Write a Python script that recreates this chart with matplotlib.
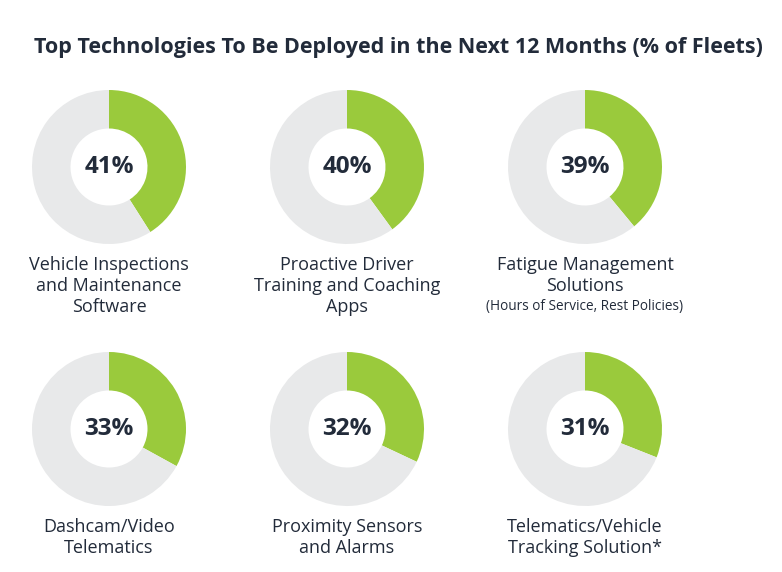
import matplotlib.pyplot as plt

plt.rcParams['font.family'] = ['Open Sans', 'DejaVu Sans']

TITLE = 'Top Technologies To Be Deployed in the Next 12 Months (% of Fleets)'

technologies = [
    'Vehicle Inspections\nand Maintenance\nSoftware',
    'Proactive Driver\nTraining and Coaching\nApps',
    'Fatigue Management\nSolutions',
    'Dashcam/Video\nTelematics',
    'Proximity Sensors\nand Alarms',
    'Telematics/Vehicle\nTracking Solution*',
]
notes = ['', '', '(Hours of Service, Rest Policies)', '', '', '']
percent = [41, 40, 39, 33, 32, 31]

GREEN = '#9aca3c'
GREY = '#e8e9ea'
DARK = '#222b3a'

W, H = 782, 572
fig = plt.figure(figsize=(W / 100, H / 100), dpi=100)
fig.patch.set_facecolor('white')

fig.text(398 / W, 1 - 48 / H, TITLE, ha='center', va='center',
         fontsize=15.5, fontweight='bold', color=DARK)

centers_x = [109, 347, 585]
centers_y = [167, 429]
r_out = 77

for i, (name, note, p) in enumerate(zip(technologies, notes, percent)):
    cx = centers_x[i % 3]
    cy = centers_y[i // 3]
    ax = fig.add_axes([(cx - r_out) / W, 1 - (cy + r_out) / H,
                       2 * r_out / W, 2 * r_out / H])
    ax.pie([p, 100 - p], colors=[GREEN, GREY], startangle=90,
           counterclock=False, radius=1,
           wedgeprops=dict(width=0.5, linewidth=0))
    ax.set_xlim(-1, 1)
    ax.set_ylim(-1, 1)
    ax.set_aspect('equal')
    ax.axis('off')
    ax.text(0, 0, f'{p}%', ha='center', va='center', fontsize=17.5,
            fontweight='bold', color=DARK)

    fig.text(cx / W, 1 - (cy + 89) / H, name, ha='center', va='top',
             fontsize=13, color=DARK, linespacing=1.2)
    if note:
        fig.text(cx / W, 1 - (cy + 132) / H, note, ha='center', va='top',
                 fontsize=9.8, color=DARK)

fig.savefig('out.png', dpi=100)
